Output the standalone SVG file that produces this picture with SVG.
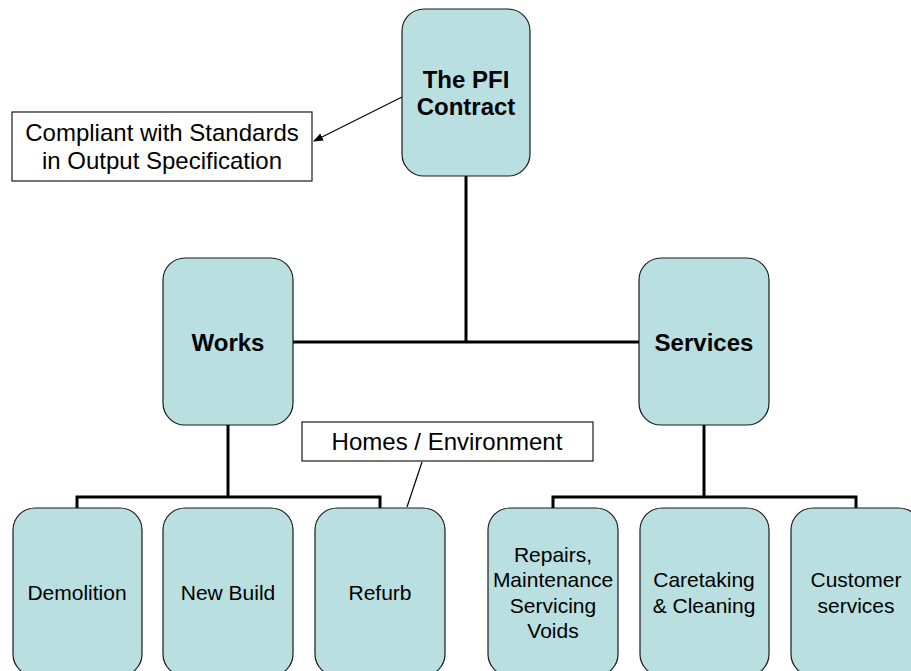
<svg xmlns="http://www.w3.org/2000/svg" width="911" height="671" viewBox="0 0 911 671">
  <style>
    .node { fill: #b9dfe1; stroke: #1a1a1a; stroke-width: 1.2; }
    .note { fill: #ffffff; stroke: #1a1a1a; stroke-width: 1.2; }
    .tree { fill: none; stroke: #000000; stroke-width: 3; }
    .thin { fill: none; stroke: #000000; stroke-width: 1.2; }
    text { font-family: "Liberation Sans", Arial, sans-serif; fill: #000000; text-anchor: middle; }
    .bold { font-size: 24px; font-weight: bold; }
    .lbl24 { font-size: 24px; }
    .lbl21 { font-size: 21px; }
  </style>
  <defs>
    <marker id="arrowhead" viewBox="0 0 10 10" refX="9" refY="5" markerWidth="10" markerHeight="10" markerUnits="userSpaceOnUse" orient="auto">
      <path d="M0,1 L10,5 L0,9 Z" fill="#000000"/>
    </marker>
  </defs>

  <rect width="911" height="671" fill="#ffffff"/>

  <!-- connectors -->
  <g id="connectors">
    <!-- contract to the two branches -->
    <path class="tree" d="M466,176 V342 M293,342 H639"/>
    <!-- works branch -->
    <path class="tree" d="M228,425 V497 M77,508 V497 H380 V508"/>
    <!-- services branch -->
    <path class="tree" d="M704,425 V497 M553,508 V497 H856 V508"/>
    <!-- callouts -->
    <line class="thin" x1="402" y1="97" x2="314" y2="141" marker-end="url(#arrowhead)"/>
    <line class="thin" x1="422" y1="462" x2="407" y2="507"/>
  </g>

  <g id="pfi-contract">
    <rect class="node" x="402" y="9" width="128" height="167" rx="22" ry="22"/>
    <text class="bold" x="466" y="88">The PFI</text>
    <text class="bold" x="466" y="115">Contract</text>
  </g>

  <g id="compliant-note">
    <rect class="note" x="12" y="112" width="300" height="69"/>
    <text class="lbl24" x="162" y="141">Compliant with Standards</text>
    <text class="lbl24" x="162" y="169">in Output Specification</text>
  </g>

  <g id="works">
    <rect class="node" x="163" y="258" width="130" height="167" rx="22" ry="22"/>
    <text class="bold" x="228" y="351">Works</text>
  </g>

  <g id="services">
    <rect class="node" x="639" y="258" width="130" height="167" rx="22" ry="22"/>
    <text class="bold" x="704" y="351">Services</text>
  </g>

  <g id="homes-note">
    <rect class="note" x="302" y="422" width="291" height="39"/>
    <text class="lbl24" x="447" y="450">Homes / Environment</text>
  </g>

  <g id="demolition">
    <rect class="node" x="13" y="508" width="129" height="168" rx="22" ry="22"/>
    <text class="lbl21" x="77" y="600">Demolition</text>
  </g>

  <g id="new-build">
    <rect class="node" x="163" y="508" width="130" height="168" rx="22" ry="22"/>
    <text class="lbl21" x="228" y="600">New Build</text>
  </g>

  <g id="refurb">
    <rect class="node" x="315" y="508" width="130" height="168" rx="22" ry="22"/>
    <text class="lbl21" x="380" y="600">Refurb</text>
  </g>

  <g id="repairs">
    <rect class="node" x="488" y="508" width="130" height="168" rx="22" ry="22"/>
    <text class="lbl21" x="553" y="562">Repairs,</text>
    <text class="lbl21" x="553" y="587">Maintenance</text>
    <text class="lbl21" x="553" y="613">Servicing</text>
    <text class="lbl21" x="553" y="638">Voids</text>
  </g>

  <g id="caretaking">
    <rect class="node" x="640" y="508" width="129" height="168" rx="22" ry="22"/>
    <text class="lbl21" x="704" y="587">Caretaking</text>
    <text class="lbl21" x="704" y="613">&amp; Cleaning</text>
  </g>

  <g id="customer-services">
    <rect class="node" x="791" y="508" width="130" height="168" rx="22" ry="22"/>
    <text class="lbl21" x="856" y="587">Customer</text>
    <text class="lbl21" x="856" y="613">services</text>
  </g>
</svg>
